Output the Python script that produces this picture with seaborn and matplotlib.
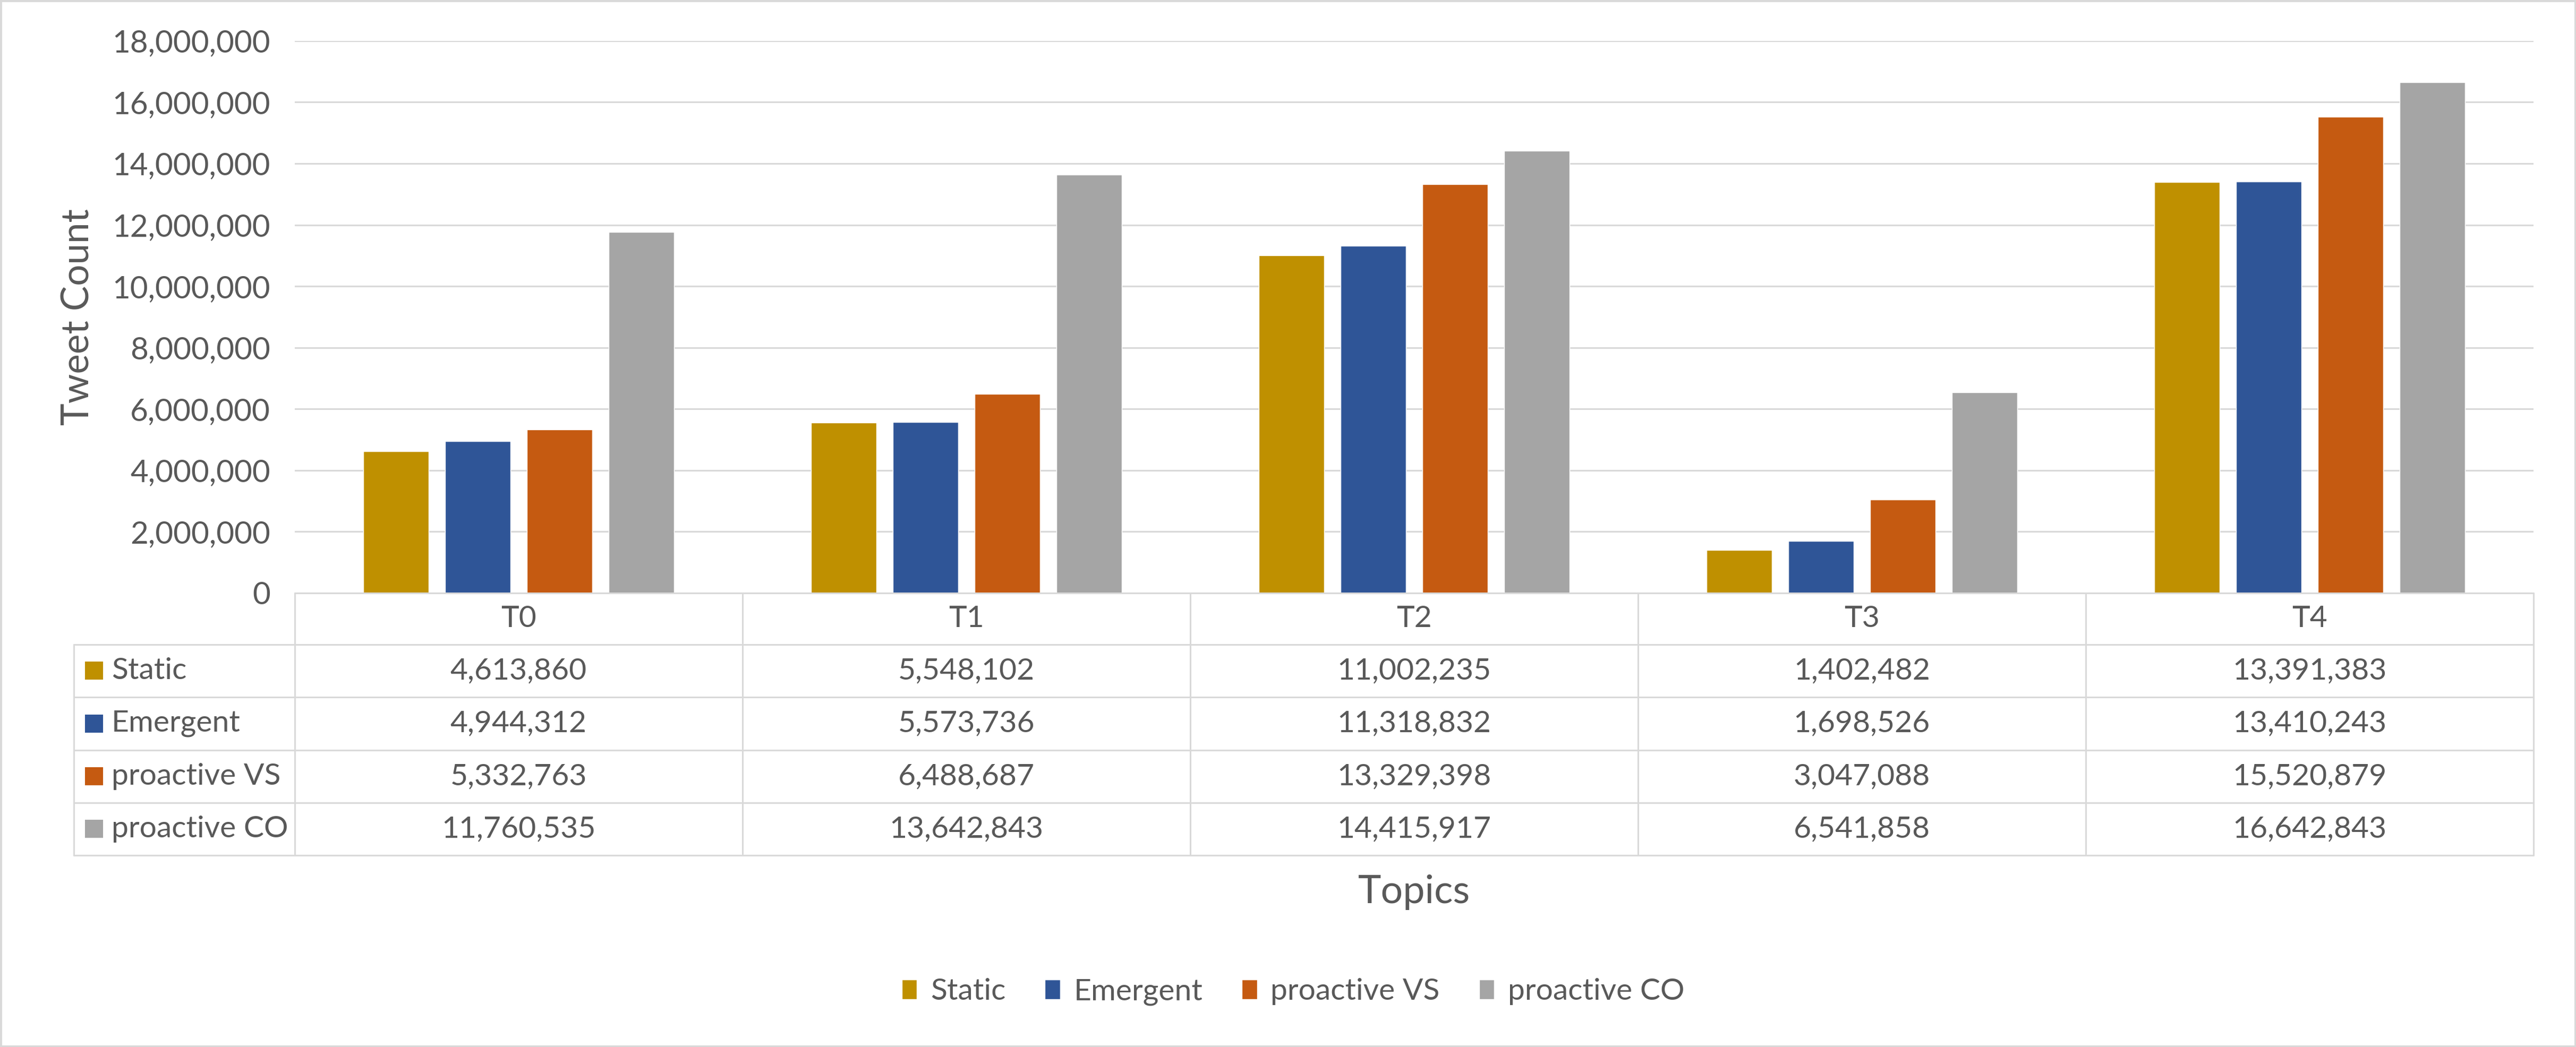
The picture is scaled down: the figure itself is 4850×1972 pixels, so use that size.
import numpy as np
import pandas as pd
import matplotlib.pyplot as plt
import seaborn as sns
from matplotlib import transforms
from matplotlib.lines import Line2D
from matplotlib.patches import Rectangle

topics = ['T0', 'T1', 'T2', 'T3', 'T4']
series = ['Static', 'Emergent', 'proactive VS', 'proactive CO']
static = [4613860, 5548102, 11002235, 1402482, 13391383]
emergent = [4944312, 5573736, 11318832, 1698526, 13410243]
proactive_vs = [5332763, 6488687, 13329398, 3047088, 15520879]
proactive_co = [11760535, 13642843, 14415917, 6541858, 16642843]
y_ticks = list(range(0, 18000001, 2000000))

colors = ['#BF9000', '#2F5597', '#C55A11', '#A5A5A5']
text_color = '#595959'
grid_color = '#D9D9D9'

values = [static, emergent, proactive_vs, proactive_co]
df = pd.DataFrame({'Topic': topics * len(series),
                   'Series': np.repeat(series, len(topics)),
                   'Count': static + emergent + proactive_vs + proactive_co})

sns.set_style('white')
plt.rcParams['font.family'] = ['Lato', 'DejaVu Sans']

fig = plt.figure(figsize=(48.5, 19.72), dpi=100)
ax = fig.add_axes([0.1144, 0.4336, 0.8691, 0.5274])

sns.barplot(data=df, x='Topic', y='Count', hue='Series', palette=colors,
            saturation=1, width=0.73, gap=0.2, ax=ax)

ax.set_xlim(-0.5, 4.5)
ax.set_ylim(0, 18000000)
ax.set_yticks(y_ticks)
ax.set_yticklabels([f'{t:,}' for t in y_ticks])
ax.yaxis.grid(True, color=grid_color, lw=2.2)
ax.set_axisbelow(True)
for s in ax.spines.values():
    s.set_visible(False)
ax.tick_params(axis='y', length=0, pad=33, labelsize=42, labelcolor=text_color)
ax.set_xticks([])
ax.set_xlabel('')
ax.set_ylabel('Tweet Count', fontsize=51, color=text_color)
ax.yaxis.set_label_coords(-0.089, 0.5)

# data table under the plot
trans = transforms.blended_transform_factory(ax.transData, fig.transFigure)
rows_y = [0.4336, 0.3844, 0.3342, 0.2835, 0.2333, 0.1831]
table_left = 0.0287
table_right = 0.9835
lw = 2.2

fig.add_artist(Line2D([-0.5, 4.5], [rows_y[0], rows_y[0]], transform=trans, color=grid_color, lw=lw))
for y in rows_y[1:]:
    fig.add_artist(Line2D([table_left, table_right], [y, y], transform=fig.transFigure,
                          color=grid_color, lw=lw))
for x in np.arange(-0.5, 5, 1):
    fig.add_artist(Line2D([x, x], [rows_y[0], rows_y[-1]], transform=trans, color=grid_color, lw=lw))
fig.add_artist(Line2D([table_left, table_left], [rows_y[1], rows_y[-1]], transform=fig.transFigure,
                      color=grid_color, lw=lw))

for i, t in enumerate(topics):
    fig.text(i, (rows_y[0] + rows_y[1]) / 2, t, transform=trans, ha='center', va='center',
             fontsize=41, color=text_color)

for r, (name, vals, c) in enumerate(zip(series, values, colors)):
    yc = (rows_y[r + 1] + rows_y[r + 2]) / 2
    fig.add_artist(Line2D([0.0365], [yc], transform=fig.transFigure, marker='s', markersize=24.5,
                          markerfacecolor=c, markeredgewidth=0, linestyle='none'))
    fig.text(0.0433, yc, name, ha='left', va='center', fontsize=41, color=text_color)
    for i, v in enumerate(vals):
        fig.text(i, yc, f'{v:,}', transform=trans, ha='center', va='center',
                 fontsize=41, color=text_color)

fig.text(0.549, 0.148, 'Topics', ha='center', va='center', fontsize=53, color=text_color)

handles, labels = ax.get_legend_handles_labels()
ax.legend_.remove()
fig.legend(handles, labels, loc='center', bbox_to_anchor=(0.502, 0.0527), ncol=4, frameon=False,
           fontsize=41, handlelength=0.5, handleheight=0.62, handletextpad=0.45,
           columnspacing=1.3, labelcolor=text_color)

fig.add_artist(Rectangle((0, 0), 1, 1, transform=fig.transFigure, fill=False,
                         edgecolor=grid_color, lw=5))

fig.savefig('out.png', dpi=100, facecolor='white')
